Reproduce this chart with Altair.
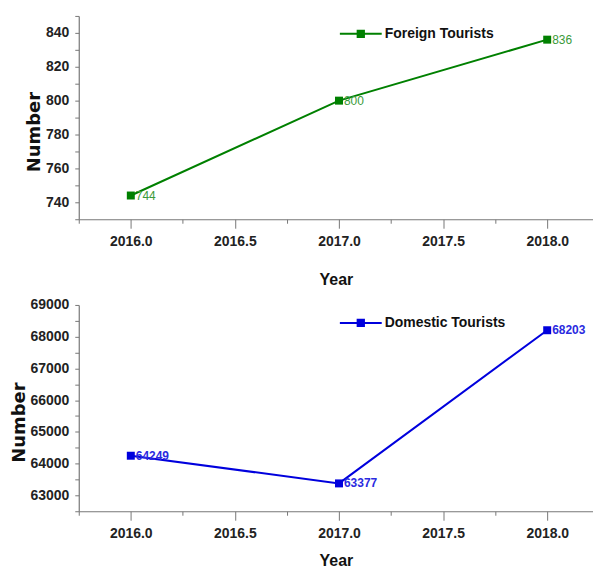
import altair as alt
import pandas as pd

years = [2016, 2017, 2018]
foreign = [744, 800, 836]
domestic = [64249, 63377, 68203]
foreign_name = "Foreign Tourists"
domestic_name = "Domestic Tourists"

x_ticks = [2015.75, 2016.0, 2016.25, 2016.5, 2016.75, 2017.0, 2017.25, 2017.5, 2017.75, 2018.0]
top_ticks = list(range(730, 851, 10))
bot_ticks = list(range(62500, 69001, 500))

FONT = "Liberation Sans, Arial, sans-serif"
WIDE = "DejaVu Sans, Verdana, sans-serif"

W = 516


def panel(values, name, color, label_color, label_weight, y_domain, y_ticks, major_step, H, legend_y, x_title_pad):
    df = pd.DataFrame({"Year": years, "Number": values, "Series": [name] * len(years)})
    x = alt.X(
        "Year:Q",
        scale=alt.Scale(domain=[2015.75, 2018.22], nice=False, zero=False),
        axis=alt.Axis(
            title="Year",
            values=x_ticks,
            labelExpr="(datum.value * 2) % 1 == 0 ? format(datum.value, '.1f') : ''",
            tickSize={"condition": {"test": "(datum.value * 2) % 1 == 0", "value": 9}, "value": 4},
            labelPadding=6,
            titlePadding=x_title_pad,
            grid=False,
        ),
    )
    y = alt.Y(
        "Number:Q",
        scale=alt.Scale(domain=y_domain, nice=False, zero=False),
        axis=alt.Axis(
            title="Number",
            values=y_ticks,
            labelExpr=f"datum.value % {major_step} == 0 ? format(datum.value, 'd') : ''",
            tickSize=4,
            labelPadding=6,
            titleFont=WIDE,
            titleFontSize=18,
            titlePadding=2,
            titleY=H / 2 + 14,
            grid=False,
        ),
    )
    color_enc = alt.Color(
        "Series:N",
        scale=alt.Scale(domain=[name], range=[color]),
        legend=alt.Legend(
            title=None,
            orient="none",
            legendX=261,
            legendY=legend_y,
            symbolType="M-1,0H1M-0.15,-0.15H0.15V0.15H-0.15Z",
            symbolSize=1764,
            symbolStrokeWidth=2,
            symbolFillColor=color,
            symbolStrokeColor=color,
            labelFont=FONT,
            labelFontSize=14,
            labelFontWeight="bold",
            labelColor="#111111",
            labelOffset=2,
        ),
    )
    base = alt.Chart(df)
    line = base.mark_line(strokeWidth=2).encode(x=x, y=y, color=color_enc)
    pts = base.mark_square(size=64, opacity=1, filled=True).encode(
        x=x, y=y, color=alt.Color("Series:N", scale=alt.Scale(domain=[name], range=[color]), legend=None))
    txt = base.mark_text(align="left", baseline="middle", dx=5, font=FONT, fontSize=12,
                         fontWeight=label_weight, color=label_color).encode(
        x=x, y=y, text=alt.Text("Number:Q", format="d"))
    return alt.layer(line, pts, txt).properties(width=W, height=H)


top = panel(foreign, foreign_name, "#008000", "#3a9a3a", "normal", [730, 850], top_ticks, 20, 204, -4, 23)
bottom = panel(domestic, domestic_name, "#0000dd", "#2a2ae0", "bold", [62500, 69000], bot_ticks, 1000, 207, -4, 12)

chart = alt.vconcat(top, bottom, spacing=11).resolve_scale(color="independent").resolve_legend(color="independent").properties(
    padding={"top": 3, "left": 2, "right": 0, "bottom": 0}
).configure_view(stroke=None).configure_axis(
    domainColor="#777777",
    tickColor="#777777",
    domainWidth=1.2,
    labelFont=FONT,
    labelFontSize=14,
    labelFontWeight="bold",
    labelColor="#222222",
    titleFont=FONT,
    titleFontSize=16,
    titleFontWeight="bold",
    titleColor="#111111",
)

chart.save("out.html", embed_options={"renderer": "svg", "actions": False})
